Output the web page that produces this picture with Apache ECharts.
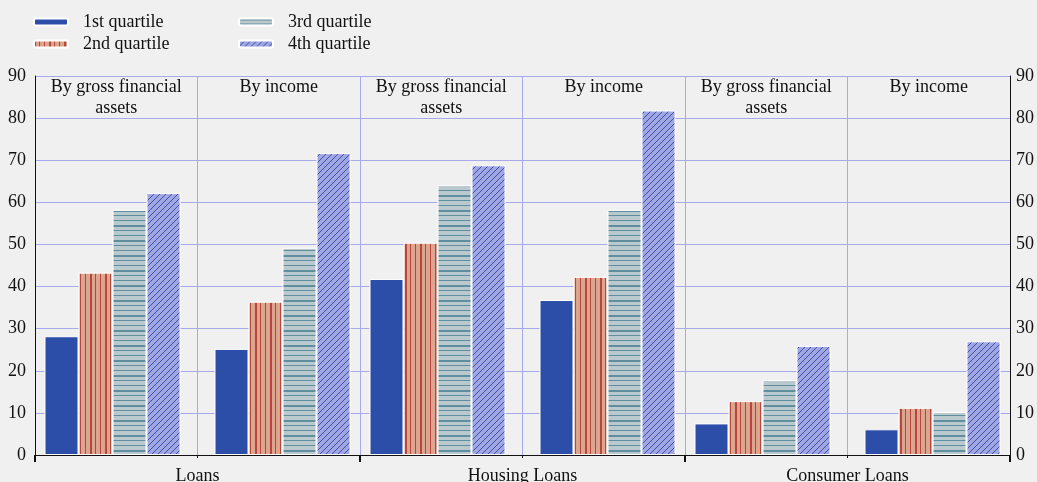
<!DOCTYPE html>
<html><head><meta charset="utf-8">
<script src="https://cdn.jsdelivr.net/npm/echarts@6/dist/echarts.min.js"></script>
<style>html,body{margin:0;padding:0;background:#f0f0f0}#c{width:1037px;height:482px}</style>
</head><body><div id="c"></div>
<script>
var mainCategories = ['Loans', 'Housing Loans', 'Consumer Loans'];
var panelLabels = ['By gross financial\nassets', 'By income', 'By gross financial\nassets', 'By income', 'By gross financial\nassets', 'By income'];
var quartileNames = ['1st quartile', '2nd quartile', '3rd quartile', '4th quartile'];
// values per quartile, one entry per main category
var byAssetsQ1 = [28.2, 41.8, 7.5];
var byAssetsQ2 = [43.3, 50.4, 12.8];
var byAssetsQ3 = [58.2, 64.1, 17.8];
var byAssetsQ4 = [62.2, 68.8, 25.9];
var byIncomeQ1 = [25.2, 36.8, 6.1];
var byIncomeQ2 = [36.4, 42.3, 11.2];
var byIncomeQ3 = [49.2, 58.2, 10.2];
var byIncomeQ4 = [71.7, 81.8, 27.0];
var yTicks = {min: 0, max: 90, interval: 10};

function mk(w, h, draw) {
  var c = document.createElement('canvas'); c.width = w; c.height = h;
  var g = c.getContext('2d'); draw(g); return c;
}
var pat2 = mk(15, 4, function (g) {
  g.fillStyle = '#dca590'; g.fillRect(0, 0, 15, 4);
  g.fillStyle = '#b8463a'; g.fillRect(0, 0, 2, 4); g.fillRect(5, 0, 1, 4); g.fillRect(10, 0, 1, 4);
});
var pat3 = mk(4, 15, function (g) {
  g.fillStyle = '#b9c9cd'; g.fillRect(0, 0, 4, 15);
  g.fillStyle = '#5f8e9e'; g.fillRect(0, 0, 4, 2); g.fillRect(0, 5, 4, 1); g.fillRect(0, 10, 4, 1);
});
var pat4 = mk(6, 6, function (g) {
  g.fillStyle = '#a0a7e0'; g.fillRect(0, 0, 6, 6);
  g.fillStyle = '#3f50b4';
  for (var i = 0; i < 6; i++) g.fillRect(i, 5 - i, 1, 1);
});
var colors = ['#2c4ea8', {image: pat2, repeat: 'repeat'}, {image: pat3, repeat: 'repeat'}, {image: pat4, repeat: 'repeat'}];

var font = 'Liberation Serif';
var fs = 18;
function bar(name, data, color) {
  return {type: 'bar', name: name, data: data, barWidth: 34, barGap: '0%',
    itemStyle: {color: color, borderColor: '#ffffff', borderWidth: 1}, silent: true};
}
var assets = [byAssetsQ1, byAssetsQ2, byAssetsQ3, byAssetsQ4];
var income = [byIncomeQ1, byIncomeQ2, byIncomeQ3, byIncomeQ4];
var series = [];
for (var i = 0; i < 4; i++) series.push(bar(quartileNames[i], assets[i], colors[i]));
series.push({type: 'bar', name: '', data: [null, null, null], barWidth: 34, barGap: '0%', silent: true});
for (var i = 0; i < 4; i++) series.push(bar(quartileNames[i], income[i], colors[i]));

var legendText = {fontFamily: font, fontSize: fs, color: '#111', padding: [0, 0, 0, 10]};
var option = {
  backgroundColor: '#f0f0f0',
  animation: false,
  legend: [
    {data: quartileNames.slice(0, 2), orient: 'vertical', left: 33, top: 13, padding: 0, itemWidth: 34, itemHeight: 7, itemGap: 4, textStyle: legendText, selectedMode: false},
    {data: quartileNames.slice(2, 4), orient: 'vertical', left: 238, top: 13, padding: 0, itemWidth: 34, itemHeight: 7, itemGap: 4, textStyle: legendText, selectedMode: false}
  ],
  grid: {left: 35, right: 27, top: 76, bottom: 27, containLabel: false, outerBoundsMode: 'none'},
  xAxis: [
    {type: 'category', data: mainCategories, position: 'bottom',
      axisLine: {show: true, lineStyle: {color: '#111', width: 1}},
      axisTick: {show: true, length: 7, lineStyle: {color: '#111', width: 2}},
      axisLabel: {fontFamily: font, fontSize: fs, color: '#111', margin: 12},
      splitLine: {show: false}},
    {type: 'category', data: panelLabels, position: 'top',
      axisLine: {show: false}, axisTick: {show: false},
      axisLabel: {inside: true, interval: 0, fontFamily: font, fontSize: fs, color: '#111', lineHeight: 21, margin: 1, verticalAlign: 'top'},
      splitLine: {show: true, interval: 0, lineStyle: {color: '#a8a9ea', width: 1}}},
    {type: 'category', data: panelLabels, position: 'bottom',
      axisLine: {show: false}, axisTick: {show: true, interval: 0, length: 3, lineStyle: {color: '#111'}},
      axisLabel: {show: false}, splitLine: {show: false}}
  ],
  yAxis: [
    {type: 'value', min: yTicks.min, max: yTicks.max, interval: yTicks.interval, position: 'left',
      axisLine: {show: true, lineStyle: {color: '#111'}}, axisTick: {show: false},
      axisLabel: {fontFamily: font, fontSize: fs, color: '#111', margin: 9},
      splitLine: {show: true, lineStyle: {color: '#a8a9ea', width: 1}}},
    {type: 'value', min: yTicks.min, max: yTicks.max, interval: yTicks.interval, position: 'right',
      axisLine: {show: true, lineStyle: {color: '#111'}}, axisTick: {show: false},
      axisLabel: {fontFamily: font, fontSize: fs, color: '#111', margin: 6},
      splitLine: {show: false}}
  ],
  series: series
};
var chart = echarts.init(document.getElementById('c'));
chart.setOption(option);
</script></body></html>
